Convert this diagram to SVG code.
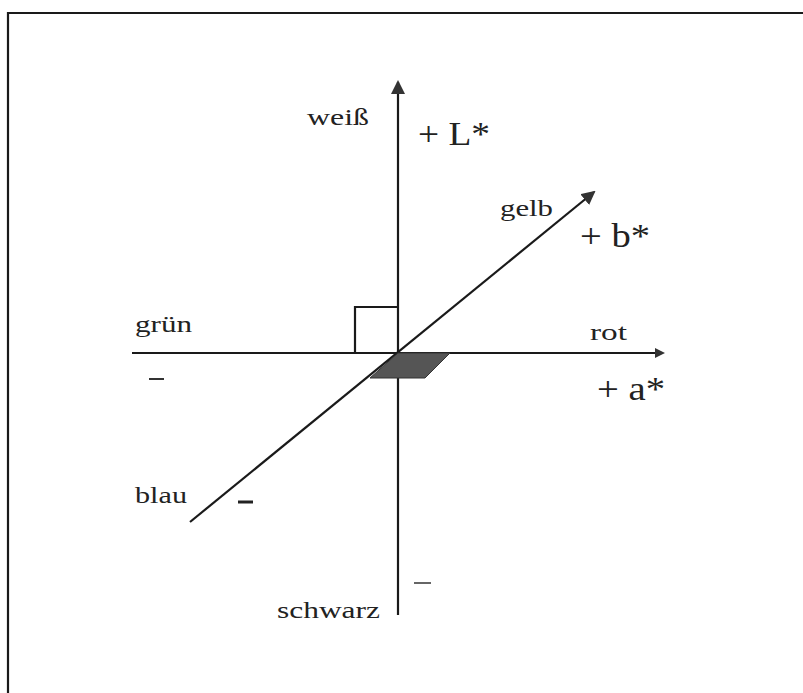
<svg xmlns="http://www.w3.org/2000/svg" width="803" height="693" viewBox="0 0 803 693">
<style>
.ax{stroke:#1a1a1a;stroke-width:2.2;fill:none}
.t{font-family:"Liberation Serif",serif;fill:#222}
.s{font-size:23px}
.b{font-size:33px}
</style>
<defs>
<marker id="ah" markerWidth="10" markerHeight="10" refX="8" refY="5" orient="auto" markerUnits="userSpaceOnUse">
<path d="M0,0 L10,5 L0,10 Z" fill="#333"/>
</marker>
<marker id="ahL" markerWidth="14" markerHeight="16" refX="12" refY="7" orient="auto" markerUnits="userSpaceOnUse">
<path d="M0,0 L14,7 L0,14 Z" fill="#333"/>
</marker>
</defs>
<rect width="803" height="693" fill="#fff"/>
<g id="frame"><path d="M8,693 L8,13 L803,13" class="ax" stroke-width="2"/></g>
<g id="connectors">
<line id="L-axis" x1="398" y1="615" x2="398" y2="82" class="ax" marker-end="url(#ahL)"/>
<line id="a-axis" x1="132" y1="353" x2="663" y2="353" class="ax" marker-end="url(#ah)"/>
<line id="b-axis" x1="190" y1="522" x2="594" y2="192" class="ax" marker-end="url(#ahL)"/>
</g>
<g id="square"><path d="M398,307 L355,307 L355,353" class="ax"/></g>
<g id="plane"><path d="M398,353 L450,353 L425,378 L370,378 Z" fill="#555" stroke="#333" stroke-width="1"/></g>
<g id="labels">
<text class="t s" x="307" y="125" textLength="62" lengthAdjust="spacingAndGlyphs">weiß</text>
<text class="t b" x="418" y="145" textLength="72" lengthAdjust="spacingAndGlyphs">+ L*</text>
<text class="t s" x="500" y="216" textLength="53" lengthAdjust="spacingAndGlyphs">gelb</text>
<text class="t b" x="580" y="247" textLength="70" lengthAdjust="spacingAndGlyphs">+ b*</text>
<text class="t s" x="135" y="332" textLength="57" lengthAdjust="spacingAndGlyphs">grün</text>
<text class="t s" x="590" y="340" textLength="37" lengthAdjust="spacingAndGlyphs">rot</text>
<text class="t b" x="597" y="400" textLength="68" lengthAdjust="spacingAndGlyphs">+ a*</text>
<text class="t s" x="135" y="503" textLength="52" lengthAdjust="spacingAndGlyphs">blau</text>
<text class="t s" x="277" y="618" textLength="103" lengthAdjust="spacingAndGlyphs">schwarz</text>
<line x1="149" y1="379" x2="164" y2="379" stroke="#333" stroke-width="2"/>
<line x1="238" y1="502" x2="253" y2="502" stroke="#222" stroke-width="3"/>
<line x1="414" y1="583" x2="431" y2="583" stroke="#333" stroke-width="1.5"/>
</g>
</svg>
